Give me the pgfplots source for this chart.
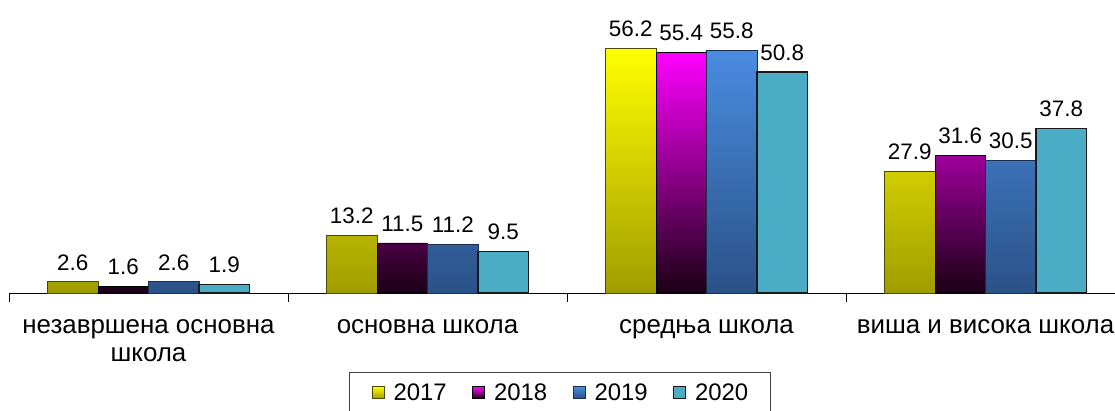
\documentclass[border=0pt]{standalone}
\usepackage{fontspec}
\setmainfont{Liberation Sans}
\usepackage{pgfplots}
\pgfplotsset{compat=1.18}
\definecolor{c17t}{HTML}{FFFF00}
\definecolor{c17b}{HTML}{A09C00}
\definecolor{c17d}{HTML}{4A4A00}
\definecolor{c18t}{HTML}{FF00FF}
\definecolor{c18b}{HTML}{1A0014}
\definecolor{c18d}{HTML}{000000}
\definecolor{c19t}{HTML}{4A8CE0}
\definecolor{c19b}{HTML}{2A5288}
\definecolor{c19d}{HTML}{1A2E4E}
\definecolor{c20}{HTML}{4BACC6}
\definecolor{c20d}{HTML}{1A1A1A}
\begin{document}
\begin{tikzpicture}
\begin{axis}[
  at={(9bp,118bp)}, anchor=south west,
  x=279bp, y=4.35bp,
  xmin=-0.5, xmax=3.466, ymin=0, ymax=60,
  axis x line=bottom, axis y line=none,
  x axis line style={-, black, line width=0.9bp},
  ybar=0pt, bar width=50.5bp,
  xtick={-0.5,0.5,1.5,2.5,3.5}, xticklabels={},
  tick align=outside, major tick length=9bp,
  xtick style={black, line width=0.9bp},
  extra x ticks={0,1,2,3},
  extra x tick labels={{незавршена основна\\школа},{основна школа},{средња школа},{виша и висока школа}},
  extra x tick style={major tick length=0pt},
  xticklabel style={align=center, font=\fontsize{26}{28}\selectfont, inner sep=0pt, yshift=-26bp},
  nodes near coords,
  /pgf/number format/fixed, /pgf/number format/fixed zerofill, /pgf/number format/precision=1,
  /pgf/number format/assume math mode=true,
  every node near coord/.append style={font=\fontsize{22.5}{26}\selectfont, anchor=south, inner sep=0pt, yshift=11bp, black},
  legend columns=4,
  legend style={at={(0.498,-0.302)}, anchor=north, draw=black!75, line width=1.2bp,
    font=\fontsize{24}{28}\selectfont, inner xsep=22bp, inner ysep=11bp,
    nodes={inner sep=0pt},
    /tikz/every odd column/.append style={column sep=9bp},
    /tikz/every even column/.append style={column sep=25.5bp}},
  legend image code/.code={\draw[#1, line width=0.8bp] (0bp,-6bp) rectangle (12bp,6bp);},
  clip=false,
]
\addplot[draw=c17d, line width=0.9bp, top color=c17t, bottom color=c17b] coordinates {(0,2.6) (1,13.2) (2,56.2) (3,27.9)};
\addplot[draw=c18d, line width=0.9bp, top color=c18t, bottom color=c18b] coordinates {(0,1.6) (1,11.5) (2,55.4) (3,31.6)};
\addplot[draw=c19d, line width=0.9bp, top color=c19t, bottom color=c19b] coordinates {(0,2.6) (1,11.2) (2,55.8) (3,30.5)};
\addplot[draw=c20d, line width=1.2bp, fill=c20] coordinates {(0,1.9) (1,9.5) (2,50.8) (3,37.8)};
\legend{2017,2018,2019,2020}
\end{axis}
\pgfresetboundingbox
\path[use as bounding box] (0bp,0bp) rectangle (1115bp,411bp);
\end{tikzpicture}
\end{document}
